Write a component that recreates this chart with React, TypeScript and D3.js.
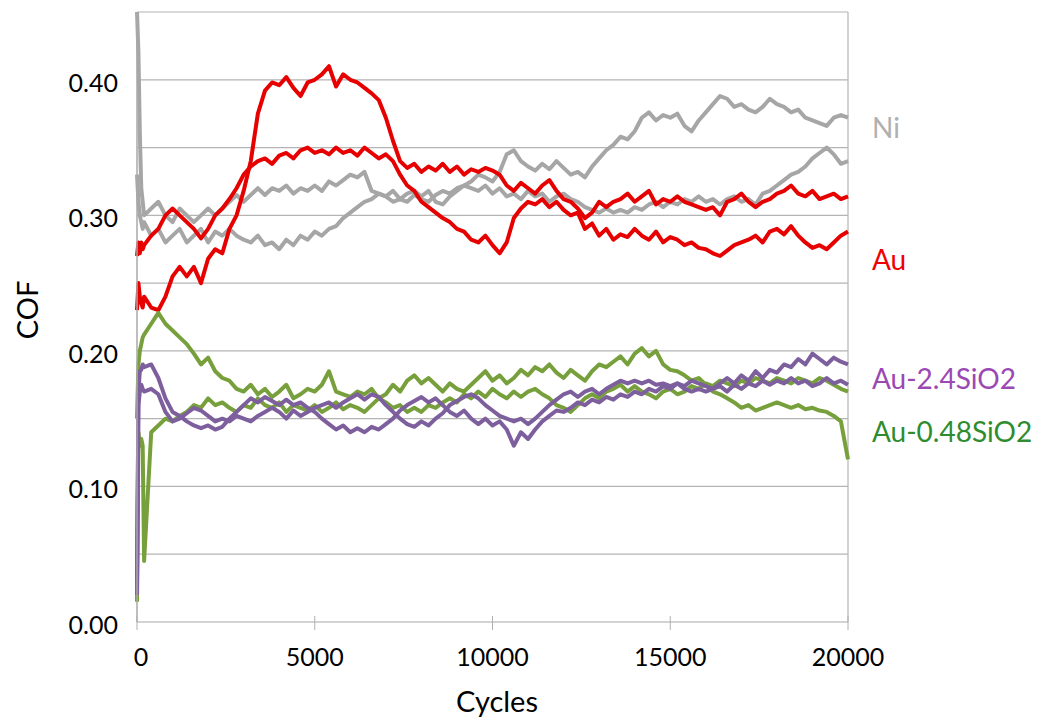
import * as d3 from "d3";

// cycle positions shared by every series (denser at the very start)
const cycles = [
  0, 40, 80, 120, 160, 200, 400, 600, 800, 1000, 1200, 1400, 1600, 1800, 2000,
  2200, 2400, 2600, 2800, 3000, 3200, 3400, 3600, 3800, 4000, 4200, 4400, 4600,
  4800, 5000, 5200, 5400, 5600, 5800, 6000, 6200, 6400, 6600, 6800, 7000, 7200,
  7400, 7600, 7800, 8000, 8200, 8400, 8600, 8800, 9000, 9200, 9400, 9600, 9800,
  10000, 10200, 10400, 10600, 10800, 11000, 11200, 11400, 11600, 11800, 12000,
  12200, 12400, 12600, 12800, 13000, 13200, 13400, 13600, 13800, 14000, 14200,
  14400, 14600, 14800, 15000, 15200, 15400, 15600, 15800, 16000, 16200, 16400,
  16600, 16800, 17000, 17200, 17400, 17600, 17800, 18000, 18200, 18400, 18600,
  18800, 19000, 19200, 19400, 19600, 19800, 20000,
];

const ni1 = [
  0.45, 0.42, 0.36, 0.32, 0.31, 0.3, 0.305, 0.31, 0.3, 0.295, 0.305, 0.3, 0.295,
  0.3, 0.305, 0.3, 0.305, 0.31, 0.315, 0.31, 0.315, 0.32, 0.315, 0.32, 0.318,
  0.322, 0.316, 0.32, 0.318, 0.322, 0.318, 0.325, 0.322, 0.326, 0.33, 0.328,
  0.332, 0.318, 0.316, 0.314, 0.31, 0.312, 0.31, 0.315, 0.312, 0.31, 0.315,
  0.318, 0.316, 0.32, 0.322, 0.325, 0.33, 0.328, 0.325, 0.332, 0.345, 0.348,
  0.34, 0.336, 0.333, 0.338, 0.334, 0.34, 0.335, 0.33, 0.332, 0.328, 0.336,
  0.342, 0.348, 0.352, 0.358, 0.356, 0.362, 0.372, 0.376, 0.37, 0.374, 0.372,
  0.375, 0.366, 0.362, 0.37, 0.376, 0.382, 0.388, 0.386, 0.38, 0.382, 0.378,
  0.376, 0.38, 0.386, 0.382, 0.38, 0.376, 0.378, 0.372, 0.37, 0.368, 0.366,
  0.372, 0.374, 0.372,
];
const ni2 = [
  0.33, 0.31, 0.3, 0.295, 0.29, 0.295, 0.285, 0.29, 0.28, 0.285, 0.29, 0.28,
  0.285, 0.29, 0.28, 0.288, 0.285, 0.29, 0.285, 0.282, 0.28, 0.285, 0.278, 0.28,
  0.275, 0.282, 0.278, 0.285, 0.282, 0.288, 0.285, 0.29, 0.292, 0.298, 0.302,
  0.306, 0.31, 0.312, 0.316, 0.314, 0.318, 0.312, 0.316, 0.318, 0.314, 0.318,
  0.31, 0.308, 0.314, 0.318, 0.322, 0.32, 0.318, 0.322, 0.316, 0.32, 0.314,
  0.316, 0.312, 0.318, 0.314, 0.316, 0.31, 0.314, 0.316, 0.312, 0.31, 0.306,
  0.304, 0.302, 0.305, 0.302, 0.304, 0.302, 0.306, 0.304, 0.308, 0.31, 0.306,
  0.31, 0.308, 0.312, 0.31, 0.314, 0.31, 0.312, 0.308, 0.312, 0.314, 0.31,
  0.312, 0.308, 0.316, 0.318, 0.322, 0.326, 0.33, 0.332, 0.336, 0.342, 0.346,
  0.35, 0.345, 0.338, 0.34,
];
const au1 = [
  0.23, 0.25, 0.24, 0.235, 0.232, 0.24, 0.232, 0.23, 0.24, 0.255, 0.262, 0.255,
  0.262, 0.25, 0.268, 0.275, 0.272, 0.29, 0.3, 0.318, 0.34, 0.375, 0.392, 0.398,
  0.396, 0.402, 0.394, 0.388, 0.398, 0.4, 0.404, 0.41, 0.395, 0.404, 0.4, 0.398,
  0.394, 0.39, 0.385, 0.372, 0.355, 0.34, 0.335, 0.338, 0.332, 0.336, 0.333,
  0.338, 0.332, 0.336, 0.33, 0.334, 0.332, 0.335, 0.333, 0.33, 0.322, 0.318,
  0.324, 0.32, 0.316, 0.322, 0.326, 0.318, 0.312, 0.31, 0.305, 0.298, 0.302,
  0.31, 0.306, 0.31, 0.312, 0.316, 0.31, 0.314, 0.318, 0.308, 0.312, 0.31,
  0.314, 0.31, 0.308, 0.306, 0.304, 0.306, 0.3, 0.31, 0.312, 0.316, 0.31, 0.306,
  0.31, 0.312, 0.316, 0.318, 0.322, 0.316, 0.314, 0.318, 0.312, 0.314, 0.316,
  0.312, 0.314,
];
const au2 = [
  0.27, 0.28, 0.272, 0.28, 0.275, 0.278, 0.285, 0.29, 0.3, 0.305, 0.3, 0.295,
  0.29, 0.283, 0.29, 0.3, 0.305, 0.312, 0.32, 0.33, 0.336, 0.34, 0.342, 0.338,
  0.344, 0.346, 0.342, 0.348, 0.35, 0.346, 0.348, 0.345, 0.35, 0.346, 0.348,
  0.344, 0.35, 0.346, 0.342, 0.345, 0.34, 0.33, 0.322, 0.318, 0.31, 0.306, 0.302,
  0.298, 0.295, 0.29, 0.288, 0.282, 0.28, 0.285, 0.278, 0.272, 0.28, 0.298,
  0.305, 0.31, 0.308, 0.312, 0.306, 0.31, 0.304, 0.3, 0.302, 0.29, 0.294, 0.285,
  0.29, 0.282, 0.286, 0.284, 0.29, 0.285, 0.282, 0.288, 0.28, 0.284, 0.282,
  0.278, 0.28, 0.276, 0.275, 0.272, 0.27, 0.274, 0.278, 0.28, 0.282, 0.285,
  0.28, 0.288, 0.29, 0.286, 0.292, 0.285, 0.28, 0.276, 0.278, 0.275, 0.28,
  0.285, 0.288,
];
const sio24a = [
  0.02, 0.17, 0.185, 0.186, 0.19, 0.188, 0.19, 0.18, 0.165, 0.155, 0.152, 0.148,
  0.145, 0.143, 0.145, 0.142, 0.144, 0.15, 0.155, 0.16, 0.165, 0.162, 0.166,
  0.163, 0.16, 0.164, 0.16, 0.162, 0.158, 0.155, 0.15, 0.146, 0.142, 0.145, 0.14,
  0.143, 0.14, 0.144, 0.142, 0.146, 0.15, 0.156, 0.16, 0.163, 0.166, 0.162,
  0.165, 0.16, 0.155, 0.152, 0.156, 0.15, 0.146, 0.15, 0.145, 0.148, 0.142,
  0.13, 0.14, 0.135, 0.142, 0.148, 0.152, 0.156, 0.155, 0.158, 0.162, 0.16,
  0.164, 0.162, 0.166, 0.164, 0.168, 0.166, 0.17, 0.168, 0.172, 0.17, 0.174,
  0.172, 0.176, 0.174, 0.178, 0.176, 0.174, 0.172, 0.176, 0.18, 0.176, 0.182,
  0.178, 0.185, 0.18, 0.186, 0.184, 0.19, 0.188, 0.194, 0.19, 0.198, 0.194,
  0.19, 0.195, 0.192, 0.19,
];
const sio24b = [
  0.03, 0.16, 0.17, 0.175, 0.172, 0.17, 0.172, 0.168, 0.155, 0.148, 0.15, 0.154,
  0.158, 0.156, 0.152, 0.148, 0.15, 0.148, 0.152, 0.15, 0.148, 0.152, 0.155,
  0.158, 0.155, 0.15, 0.156, 0.152, 0.155, 0.158, 0.16, 0.162, 0.158, 0.162,
  0.165, 0.168, 0.164, 0.168, 0.166, 0.16, 0.155, 0.15, 0.146, 0.144, 0.148,
  0.145, 0.15, 0.154, 0.16, 0.163, 0.166, 0.168, 0.165, 0.16, 0.156, 0.152, 0.15,
  0.148, 0.15, 0.146, 0.15, 0.155, 0.16, 0.164, 0.168, 0.17, 0.166, 0.17, 0.172,
  0.168, 0.172, 0.175, 0.178, 0.176, 0.178, 0.176, 0.178, 0.175, 0.176, 0.174,
  0.176, 0.172, 0.17, 0.172, 0.17, 0.172, 0.174, 0.17, 0.175, 0.172, 0.176,
  0.174, 0.178, 0.175, 0.178, 0.176, 0.18, 0.176, 0.178, 0.174, 0.176, 0.18,
  0.176, 0.178, 0.175,
];
const sio048a = [
  0.15, 0.19, 0.2, 0.205, 0.21, 0.212, 0.22, 0.228, 0.22, 0.215, 0.21, 0.205,
  0.198, 0.19, 0.195, 0.185, 0.18, 0.178, 0.172, 0.17, 0.175, 0.168, 0.172,
  0.166, 0.17, 0.175, 0.165, 0.168, 0.172, 0.17, 0.175, 0.185, 0.17, 0.168,
  0.166, 0.17, 0.168, 0.172, 0.165, 0.168, 0.175, 0.17, 0.178, 0.182, 0.176,
  0.18, 0.175, 0.17, 0.176, 0.172, 0.17, 0.175, 0.18, 0.185, 0.178, 0.182,
  0.176, 0.18, 0.186, 0.182, 0.188, 0.185, 0.19, 0.184, 0.18, 0.186, 0.182,
  0.178, 0.185, 0.19, 0.188, 0.192, 0.196, 0.19, 0.198, 0.202, 0.196, 0.2, 0.19,
  0.186, 0.185, 0.182, 0.178, 0.18, 0.175, 0.17, 0.168, 0.165, 0.162, 0.158,
  0.16, 0.156, 0.158, 0.16, 0.162, 0.16, 0.158, 0.16, 0.157, 0.158, 0.156,
  0.155, 0.152, 0.148, 0.12,
];
const sio048b = [
  0.015, 0.14, 0.13, 0.135, 0.13, 0.045, 0.14, 0.145, 0.15, 0.148, 0.152, 0.155,
  0.16, 0.158, 0.165, 0.16, 0.162, 0.158, 0.155, 0.16, 0.158, 0.165, 0.16,
  0.158, 0.162, 0.155, 0.16, 0.158, 0.156, 0.16, 0.155, 0.158, 0.162, 0.157,
  0.16, 0.158, 0.155, 0.16, 0.165, 0.162, 0.158, 0.16, 0.155, 0.158, 0.155, 0.16,
  0.158, 0.162, 0.165, 0.162, 0.168, 0.165, 0.17, 0.166, 0.172, 0.168, 0.165,
  0.17, 0.166, 0.17, 0.172, 0.168, 0.165, 0.16, 0.158, 0.155, 0.16, 0.165, 0.168,
  0.165, 0.17, 0.172, 0.175, 0.17, 0.174, 0.17, 0.168, 0.165, 0.17, 0.172, 0.168,
  0.17, 0.174, 0.172, 0.176, 0.174, 0.178, 0.176, 0.174, 0.178, 0.176, 0.18,
  0.178, 0.176, 0.18, 0.178, 0.176, 0.18, 0.178, 0.176, 0.18, 0.178, 0.175,
  0.172, 0.17,
];

const yTicks = [0, 0.1, 0.2, 0.3, 0.4];
const yGrid = [0.05, 0.1, 0.15, 0.2, 0.25, 0.3, 0.35, 0.4];
const xTicks = [0, 5000, 10000, 15000, 20000];

const series = [
  { values: ni1, color: "#a6a6a6" },
  { values: ni2, color: "#a6a6a6" },
  { values: au1, color: "#e60000" },
  { values: au2, color: "#e60000" },
  { values: sio048a, color: "#77a03c" },
  { values: sio048b, color: "#77a03c" },
  { values: sio24a, color: "#7e5f9e" },
  { values: sio24b, color: "#7e5f9e" },
];

const labels = [
  { text: "Ni", value: 0.365, color: "#b0b0b0" },
  { text: "Au", value: 0.268, color: "#f00000" },
  { text: "Au-2.4SiO2", value: 0.18, color: "#9a48b4" },
  { text: "Au-0.48SiO2", value: 0.141, color: "#2f8c2f" },
];

const W = 1038;
const H = 720;
const font = "Lato, 'Open Sans', sans-serif";

export default function App() {
  const x = d3.scaleLinear().domain([0, 20000]).range([137, 848]);
  const y = d3.scaleLinear().domain([0, 0.45]).range([622, 12]);

  const line = d3
    .line<number>()
    .x((_, i) => x(cycles[i]))
    .y((d) => y(d));

  return (
    <svg
      width={W}
      height={H}
      style={{ position: "absolute", left: 0, top: 0, background: "#fff" }}
      fontFamily={font}
    >
      {/* grid */}
      {yGrid.map((v) => (
        <line key={v} x1={x(0)} x2={x(20000)} y1={y(v)} y2={y(v)} stroke="#b4b4b4" strokeWidth={1.2} />
      ))}
      <line x1={x(0)} x2={x(20000)} y1={y(0.45)} y2={y(0.45)} stroke="#b4b4b4" strokeWidth={1.2} />
      <line x1={x(20000)} x2={x(20000)} y1={y(0.45)} y2={y(0)} stroke="#b4b4b4" strokeWidth={1.2} />

      {/* series */}
      {series.map((s, i) => (
        <path
          key={i}
          d={line(s.values) ?? ""}
          fill="none"
          stroke={s.color}
          strokeWidth={4}
          strokeLinejoin="round"
        />
      ))}

      {/* axes */}
      <line x1={x(0)} x2={x(20000)} y1={y(0)} y2={y(0)} stroke="#a8a8a8" strokeWidth={1.2} />
      <line x1={x(0)} x2={x(0)} y1={y(0.45)} y2={y(0)} stroke="#a8a8a8" strokeWidth={1.5} />
      {xTicks.map((t) => (
        <g key={t}>
          <line x1={x(t)} x2={x(t)} y1={y(0) - 6} y2={y(0) + 8} stroke="#b0b0b0" strokeWidth={1} />
          <text x={x(t) + (t === 0 ? 4 : 0)} y={656} fontSize={25} textAnchor="middle" dominantBaseline="central" fill="#000">
            {t}
          </text>
        </g>
      ))}
      {yTicks.map((t) => (
        <text key={t} x={118} y={y(t) + 2} fontSize={25} textAnchor="end" dominantBaseline="central" fill="#000">
          {t.toFixed(2)}
        </text>
      ))}

      <text x={497} y={700} fontSize={29} textAnchor="middle" dominantBaseline="central">
        Cycles
      </text>
      <text
        transform={`translate(26,${310}) rotate(-90)`}
        fontSize={29}
        textAnchor="middle"
        dominantBaseline="central"
      >
        COF
      </text>

      {/* series labels */}
      {labels.map((l) => (
        <text key={l.text} x={872} y={y(l.value)} fontSize={28} fill={l.color} dominantBaseline="central">
          {l.text}
        </text>
      ))}
    </svg>
  );
}
